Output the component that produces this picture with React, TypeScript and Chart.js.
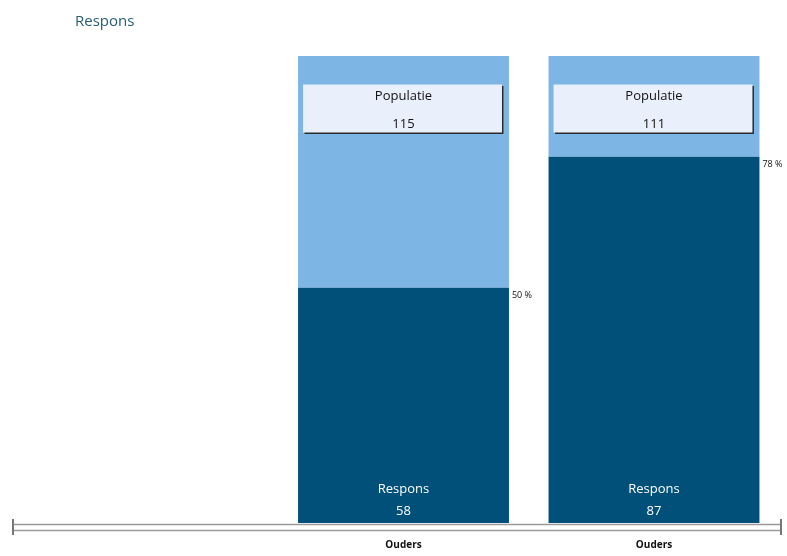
import { useEffect, useRef } from 'react';
import { Chart, registerables } from 'chart.js';

Chart.register(...registerables);

const chartTitle = 'Respons';
const categories = ['Ouders', 'Ouders'];
const categoryPositions = [1, 2];
const populatie = [115, 111];
const respons = [58, 87];
const responsPct = [50.4, 78.4];
const restPct = [49.6, 21.6];
const pctLabels = ['50 %', '78 %'];
const populatieLabel = 'Populatie';
const responsLabel = 'Respons';

const DARK = '#00507a';
const LIGHT = '#7db5e4';
const FONT = "'Open Sans', 'Noto Sans', sans-serif";

const overlayPlugin = {
  id: 'overlay',
  afterDatasetsDraw(chart: any) {
    const ctx = chart.ctx;
    const dark = chart.getDatasetMeta(0).data;
    const light = chart.getDatasetMeta(1).data;
    ctx.save();
    for (let i = 0; i < dark.length; i++) {
      const d = dark[i];
      const l = light[i];
      const half = d.width / 2;
      const left = d.x - half;
      const right = d.x + half;
      const top = l.y;
      const bottom = d.base;
      // population box
      const bx = left + 5;
      const bw = d.width - 12;
      const by = top + 28.5;
      const bh = 48;
      ctx.fillStyle = '#2a2a2a';
      ctx.fillRect(bx + 1.5, by + 1.5, bw, bh);
      ctx.fillStyle = '#e9effb';
      ctx.fillRect(bx, by, bw, bh);
      ctx.fillStyle = '#111';
      ctx.textAlign = 'center';
      ctx.textBaseline = 'middle';
      ctx.font = `13px ${FONT}`;
      ctx.fillText(populatieLabel, d.x, by + 12);
      ctx.fillText(String(populatie[i]), d.x, by + 40);
      // respons in bar
      ctx.fillStyle = '#ffffff';
      ctx.font = `13px ${FONT}`;
      ctx.fillText(responsLabel, d.x, bottom - 34);
      ctx.fillText(String(respons[i]), d.x, bottom - 12);
      // percent label
      ctx.fillStyle = '#111';
      ctx.textAlign = 'left';
      ctx.font = `9px ${FONT}`;
      ctx.fillText(pctLabels[i], right + 3, d.y + 8);
    }
    ctx.restore();
  },
  afterDraw(chart: any) {
    const ctx = chart.ctx;
    const xs = chart.scales.x;
    const y0 = chart.chartArea.bottom;
    ctx.save();
    ctx.strokeStyle = '#9a9a9a';
    ctx.lineWidth = 1.5;
    ctx.beginPath();
    ctx.moveTo(xs.left, y0 + 1.5);
    ctx.lineTo(xs.right, y0 + 1.5);
    ctx.moveTo(xs.left, y0 + 7.5);
    ctx.lineTo(xs.right, y0 + 7.5);
    ctx.stroke();
    ctx.strokeStyle = '#777';
    ctx.lineWidth = 2;
    ctx.beginPath();
    ctx.moveTo(xs.left + 1, y0 - 4);
    ctx.lineTo(xs.left + 1, y0 + 12);
    ctx.moveTo(xs.right - 1, y0 - 4);
    ctx.lineTo(xs.right - 1, y0 + 12);
    ctx.stroke();
    // title
    ctx.fillStyle = '#255f70';
    ctx.font = `15px ${FONT}`;
    ctx.textAlign = 'left';
    ctx.textBaseline = 'middle';
    ctx.fillText(chartTitle, 75, 22);
    ctx.restore();
  },
};

export default function App() {
  const ref = useRef<HTMLCanvasElement>(null);
  useEffect(() => {
    document.body.style.margin = '0';
    const chart = new Chart(ref.current as HTMLCanvasElement, {
      type: 'bar',
      data: {
        datasets: [
          {
            label: 'Respons',
            data: categoryPositions.map((x, i) => ({ x, y: responsPct[i] })),
            backgroundColor: DARK,
            stack: 's',
            categoryPercentage: 1,
            barPercentage: 0.842,
          },
          {
            label: 'Populatie',
            data: categoryPositions.map((x, i) => ({ x, y: restPct[i] })),
            backgroundColor: LIGHT,
            stack: 's',
            categoryPercentage: 1,
            barPercentage: 0.842,
          },
        ],
      } as any,
      options: {
        animation: false,
        responsive: true,
        maintainAspectRatio: false,
        layout: { padding: { left: 12, right: 5, top: 56, bottom: 5 } },
        plugins: { legend: { display: false }, tooltip: { enabled: false }, title: { display: false } },
        scales: {
          x: {
            type: 'linear',
            min: -0.563,
            max: 2.511,
            offset: false,
            stacked: true,
            grid: { display: false },
            border: { display: false },
            afterBuildTicks: (scale: any) => {
              scale.ticks = categoryPositions.map((v) => ({ value: v }));
            },
            afterFit: (scale: any) => {
              scale.height = 28;
            },
            ticks: {
              padding: 8,
              autoSkip: false,
              maxRotation: 0,
              color: '#111',
              font: { family: FONT, size: 10, weight: 'bold' },
              callback: (v: any) => {
                const idx = categoryPositions.indexOf(Number(v));
                return idx >= 0 ? categories[idx] : '';
              },
            },
          },
          y: {
            stacked: true,
            min: 0,
            max: 100,
            display: false,
          },
        },
      } as any,
      plugins: [overlayPlugin],
    });
    return () => chart.destroy();
  }, []);
  return (
    <div style={{ width: 787, height: 556, position: 'relative', background: '#fff' }}>
      <canvas ref={ref} />
    </div>
  );
}
